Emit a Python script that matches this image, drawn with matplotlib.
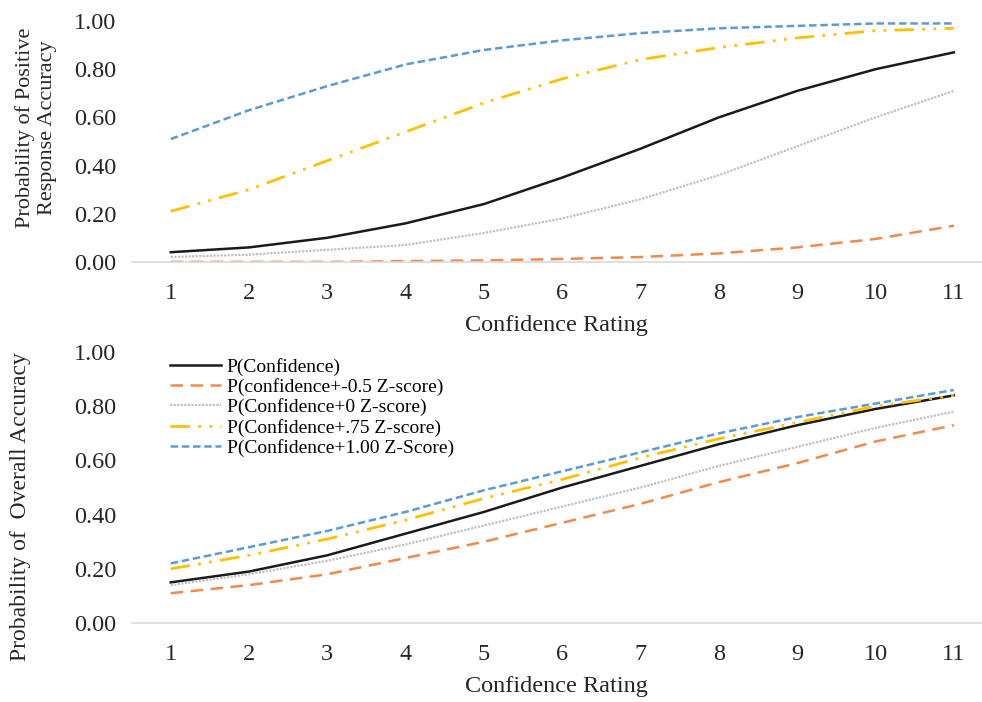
import matplotlib
matplotlib.use("Agg")
import matplotlib.pyplot as plt

plt.rcParams['font.family'] = ['Liberation Serif', 'DejaVu Serif']

ratings = [1, 2, 3, 4, 5, 6, 7, 8, 9, 10, 11]
labels = [
    "P(Confidence)",
    "P(confidence+-0.5 Z-score)",
    "P(Confidence+0 Z-score)",
    "P(Confidence+.75 Z-score)",
    "P(Confidence+1.00 Z-Score)",
]

# top panel: probability of positive response accuracy
pos_conf = [0.04, 0.06, 0.10, 0.16, 0.24, 0.35, 0.47, 0.60, 0.71, 0.80, 0.87]
pos_neg05 = [0.00, 0.00, 0.00, 0.003, 0.006, 0.012, 0.02, 0.035, 0.06, 0.095, 0.15]
pos_z0 = [0.02, 0.03, 0.05, 0.07, 0.12, 0.18, 0.26, 0.36, 0.48, 0.60, 0.71]
pos_z075 = [0.21, 0.30, 0.42, 0.54, 0.66, 0.76, 0.84, 0.89, 0.93, 0.96, 0.97]
pos_z100 = [0.51, 0.63, 0.73, 0.82, 0.88, 0.92, 0.95, 0.97, 0.98, 0.99, 0.99]

# bottom panel: probability of overall accuracy
ovr_conf = [0.15, 0.19, 0.25, 0.33, 0.41, 0.50, 0.58, 0.66, 0.73, 0.79, 0.84]
ovr_neg05 = [0.11, 0.14, 0.18, 0.24, 0.30, 0.37, 0.44, 0.52, 0.59, 0.67, 0.73]
ovr_z0 = [0.14, 0.18, 0.23, 0.29, 0.36, 0.43, 0.50, 0.58, 0.65, 0.72, 0.78]
ovr_z075 = [0.20, 0.25, 0.31, 0.38, 0.46, 0.53, 0.61, 0.68, 0.74, 0.80, 0.84]
ovr_z100 = [0.22, 0.28, 0.34, 0.41, 0.49, 0.56, 0.63, 0.70, 0.76, 0.81, 0.86]

styles = [
    dict(color="#1a1a1a", linestyle="-", linewidth=1.8),
    dict(color="#f08a4b", linestyle=(0, (5, 3)), linewidth=1.8),
    dict(color="#c0c0c0", linestyle=(0, (1, 0.6)), linewidth=1.6),
    dict(color="#ffc000", linestyle=(0, (7, 3, 1, 3, 1, 3)), linewidth=2.0),
    dict(color="#5b9bd5", linestyle=(0, (3, 1.5)), linewidth=1.8),
]

fig = plt.figure(figsize=(9.82, 7.02), dpi=100)
ax1 = fig.add_axes([0.134, 0.627, 0.866, 0.343])
ax2 = fig.add_axes([0.134, 0.1125, 0.866, 0.386])


def style_axes(ax, ylabel, ysize, ypos):
    ax.set_xlim(0.5, 11.36)
    ax.set_ylim(0, 1.0)
    ax.set_xticks(ratings)
    ax.set_yticks([0, 0.2, 0.4, 0.6, 0.8, 1.0])
    ax.set_yticklabels(["0.00", "0.20", "0.40", "0.60", "0.80", "1.00"])
    for s in ["top", "right", "left"]:
        ax.spines[s].set_visible(False)
    ax.spines["bottom"].set_color("#d9d9d9")
    ax.spines["bottom"].set_linewidth(1.2)
    ax.tick_params(length=0, labelsize=17.5, colors="#262626")
    ax.tick_params(axis="x", pad=15)
    ax.tick_params(axis="y", pad=11)
    ax.set_xlabel("Confidence Rating", fontsize=17.5, color="#262626", labelpad=8)
    ax.set_ylabel(ylabel, fontsize=ysize, color="#262626")
    ax.yaxis.set_label_coords(*ypos)


top_series = [pos_conf, pos_neg05, pos_z0, pos_z075, pos_z100]
for vals, st, lab in zip(top_series, styles, labels):
    ax1.plot(ratings, vals, label=lab, **st)
style_axes(ax1, "Probability of Positive\nResponse Accuracy", 16, (-0.088, 0.556))

bot_series = [ovr_conf, ovr_neg05, ovr_z0, ovr_z075, ovr_z100]
for vals, st, lab in zip(bot_series, styles, labels):
    ax2.plot(ratings, vals, label=lab, **st)
style_axes(ax2, "Probability of  Overall Accuracy", 17, (-0.118, 0.428))

ax2.legend(loc="upper left", bbox_to_anchor=(0.032, 1.022), frameon=False,
           fontsize=14, handlelength=2.6, handletextpad=0.3,
           labelspacing=0.12, borderaxespad=0.2)

fig.savefig("out.png", dpi=100)
